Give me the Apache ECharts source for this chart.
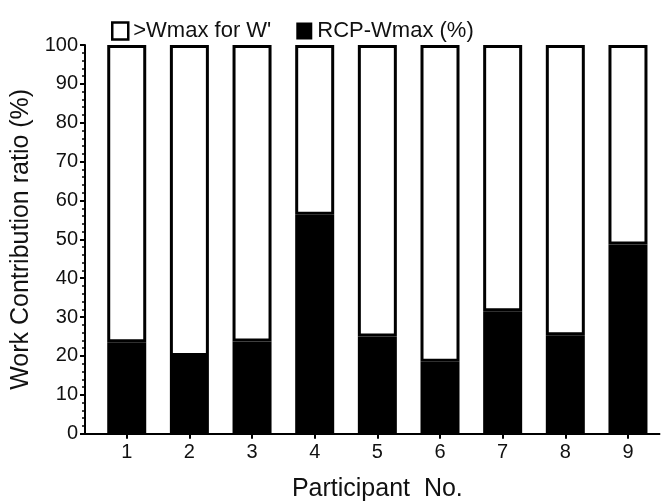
<!DOCTYPE html>
<html>
<head>
<meta charset="utf-8">
<script src="https://cdn.jsdelivr.net/npm/echarts@6/dist/echarts.min.js"></script>
<style>
html, body { margin: 0; padding: 0; background: #fff; }
#chart { width: 663px; height: 502px; }
</style>
</head>
<body>
<div id="chart"></div>
<script>
const participants = ['1', '2', '3', '4', '5', '6', '7', '8', '9']
const rcpWmax = [23.5, 20.0, 23.7, 56.3, 25.0, 18.5, 31.5, 25.3, 48.7]
const aboveWmax = rcpWmax.map(v => +(100 - v).toFixed(1))
const yTicks = { min: 0, max: 100, interval: 10 }

const font = 'Liberation Sans, Arial, sans-serif'
let myChart = echarts.init(document.getElementById('chart'))
let option = {
    animation: false,
    textStyle: { fontFamily: font, color: '#111' },
    legend: {
        left: 106,
        top: 15,
        itemWidth: 16,
        itemHeight: 17,
        itemGap: 25,
        textStyle: { fontSize: 22, color: '#111', fontFamily: font },
        data: [
            { name: ">Wmax for W'", icon: 'rect', itemStyle: { color: '#fff', borderColor: '#000', borderWidth: 2.5 } },
            { name: 'RCP-Wmax (%)', icon: 'rect', itemStyle: { color: '#000', borderColor: '#000', borderWidth: 0 } }
        ]
    },
    grid: [
        { left: 95.4, right: 3.7, top: 45, bottom: 68.3, outerBoundsMode: 'none' },
        { left: 85, right: 3.7, top: 45, bottom: 68.3, outerBoundsMode: 'none' }
    ],
    xAxis: [
        {
            type: 'category',
            gridIndex: 0,
            data: participants,
            name: 'Participant  No.',
            nameLocation: 'middle',
            nameGap: 43,
            nameTextStyle: { fontSize: 25, color: '#111' },
            axisLine: { show: true, lineStyle: { color: '#000', width: 2 } },
            axisTick: { show: true, alignWithLabel: true, length: 5, lineStyle: { color: '#000', width: 2 } },
            axisLabel: { fontSize: 20, color: '#111', margin: 9 },
            splitLine: { show: false }
        },
        {
            // only the bit of base line left of the first band
            type: 'value',
            gridIndex: 1,
            min: 0,
            max: 1,
            axisLine: { show: true, onZero: false, lineStyle: { color: '#000', width: 2 } },
            axisTick: { show: false },
            axisLabel: { show: false },
            splitLine: { show: false }
        }
    ],
    yAxis: [
        {
            type: 'value',
            gridIndex: 0,
            min: yTicks.min,
            max: yTicks.max,
            interval: yTicks.interval,
            offset: 10.4,
            name: 'Work Contribution ratio (%)',
            nameLocation: 'middle',
            nameGap: 50,
            nameTextStyle: { fontSize: 25, color: '#111' },
            axisLine: { show: true, lineStyle: { color: '#000', width: 2 } },
            axisTick: { show: true, length: 5, lineStyle: { color: '#000', width: 2 } },
            minorTick: { show: true, splitNumber: 5, length: 3, lineStyle: { color: '#000', width: 1.5 } },
            axisLabel: { fontSize: 20, color: '#111', margin: 7 },
            splitLine: { show: false }
        },
        {
            type: 'value',
            gridIndex: 1,
            show: false
        }
    ],
    series: [
        {
            name: 'RCP-Wmax (%)',
            type: 'bar',
            stack: 'total',
            data: rcpWmax,
            barWidth: 39,
            itemStyle: { color: '#000', borderColor: '#000', borderWidth: 2.5 }
        },
        {
            name: ">Wmax for W'",
            type: 'bar',
            stack: 'total',
            data: aboveWmax,
            barWidth: 39,
            itemStyle: { color: '#fff', borderColor: '#000', borderWidth: 3 }
        }
    ]
}
myChart.setOption(option)
window.addEventListener('resize', function () {
    myChart.resize()
})
</script>
</body>
</html>
